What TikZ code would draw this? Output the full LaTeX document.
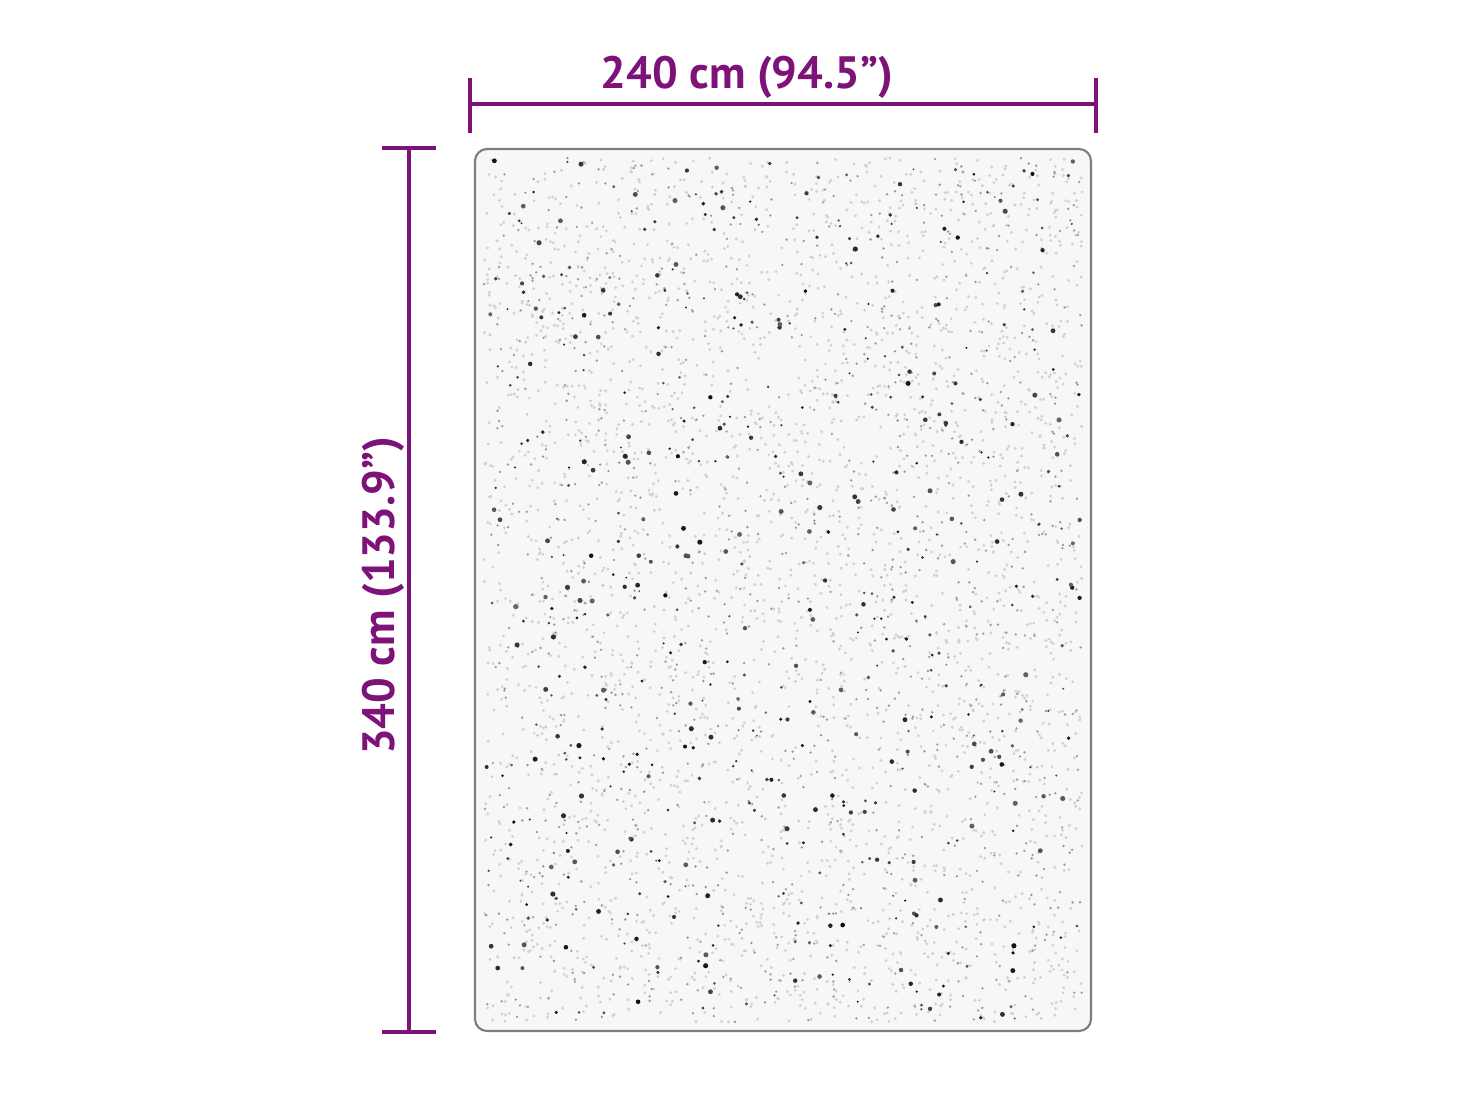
\documentclass[tikz,border=0pt]{standalone}
\usepackage{fontspec}
\setmainfont{PT Sans}

\definecolor{dimpurple}{RGB}{125,18,120}
\definecolor{rugfill}{RGB}{247,247,247}
\definecolor{rugedge}{RGB}{125,125,125}

\tikzset{
  dimline/.style={dimpurple, line width=1.3pt},
  dimlabel/.style={text=dimpurple, inner sep=0pt,
    font=\fontsize{12.9}{15}\selectfont\bfseries},
  rugshape/.style={fill=rugfill, draw=rugedge, line width=0.6pt,
    rounded corners=1.2mm},
}

\begin{document}
\begin{tikzpicture}[x=0.1mm,y=-0.1mm]
    \useasboundingbox (0,0) rectangle (1460,1096);

    % rug
    \draw[rugshape] (475,149) rectangle (1091,1031);

    \pgfmathsetseed{17}
    \foreach \i in {1,...,3000}{
        \pgfmathsetmacro{\px}{484+rnd*598}
        \pgfmathsetmacro{\py}{158+rnd*864}
        \fill[black!18] (\px,\py) circle[radius=1.6];
    }
    \foreach \i in {1,...,900}{
        \pgfmathsetmacro{\px}{484+rnd*598}
        \pgfmathsetmacro{\py}{158+rnd*864}
        \fill[black!40] (\px,\py) circle[radius=1.3];
    }
    \foreach \i in {1,...,550}{
        \pgfmathsetmacro{\px}{486+rnd*594}
        \pgfmathsetmacro{\py}{160+rnd*860}
        \pgfmathsetmacro{\pr}{1.0+rnd*1.6}
        \pgfmathsetmacro{\pk}{60+rnd*35}
        \fill[black!\pk] (\px,\py) circle[radius=\pr];
    }

    % width
    \coordinate (wleft) at (470,104);
    \coordinate (wright) at (1096,104);
    \draw[dimline] (wleft) -- (wright);
    \draw[dimline] (470,78) -- (470,133);
    \draw[dimline] (1096,78) -- (1096,133);
    \node[dimlabel] (widthlabel) at (747,77) {240 cm (94.5”)};

    % height
    \coordinate (htop) at (409,148);
    \coordinate (hbottom) at (409,1032);
    \draw[dimline] (htop) -- (hbottom);
    \draw[dimline] (382,148) -- (436,148);
    \draw[dimline] (382,1032) -- (436,1032);
    \node[dimlabel, rotate=90] (heightlabel) at (383,596) {340 cm (133.9”)};

\end{tikzpicture}
\end{document}
